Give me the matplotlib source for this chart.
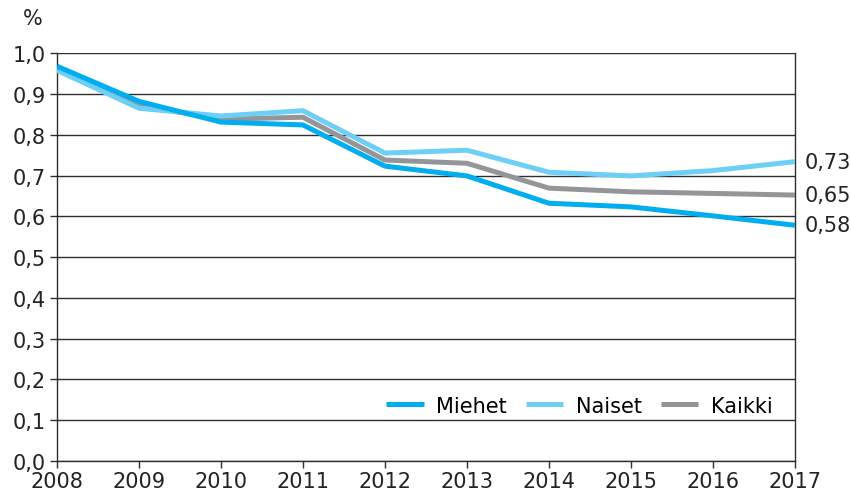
import matplotlib
matplotlib.use('Agg')
import matplotlib.pyplot as plt
from matplotlib.ticker import FuncFormatter

years = [2008, 2009, 2010, 2011, 2012, 2013, 2014, 2015, 2016, 2017]
miehet = [0.968, 0.882, 0.831, 0.824, 0.723, 0.699, 0.632, 0.623, 0.601, 0.578]
naiset = [0.958, 0.865, 0.846, 0.859, 0.755, 0.762, 0.708, 0.699, 0.712, 0.734]
kaikki = [0.963, 0.872, 0.838, 0.843, 0.738, 0.730, 0.669, 0.660, 0.656, 0.652]
end_labels = ['0,58', '0,73', '0,65']

c_m = '#00aeef'
c_n = '#6dcff6'
c_k = '#939598'
fs = 15

fig = plt.figure(figsize=(8.51, 5.02), dpi=100)
ax = fig.add_axes([0.067, 0.08, 0.867, 0.812])

ax.plot(years, miehet, color=c_m, lw=3.6, label='Miehet', solid_capstyle='butt', zorder=4)
ax.plot(years, naiset, color=c_n, lw=3.6, label='Naiset', solid_capstyle='butt', zorder=3)
ax.plot(years, kaikki, color=c_k, lw=3.6, label='Kaikki', solid_capstyle='butt', zorder=2)

ax.set_xlim(2008, 2017)
ax.set_ylim(0, 1.0)
ax.set_xticks(years)
ax.set_yticks([i / 10 for i in range(11)])
ax.yaxis.set_major_formatter(FuncFormatter(lambda v, p: f'{v:.1f}'.replace('.', ',')))
ax.grid(axis='y', color='#2e2e2e', lw=1.0, zorder=0)
ax.set_axisbelow(True)

for s in ['left', 'right', 'bottom']:
    ax.spines[s].set_color('#2e2e2e')
    ax.spines[s].set_linewidth(1.0)
ax.spines['top'].set_visible(False)
ax.tick_params(axis='both', labelsize=fs, colors='#2e2e2e', labelcolor='#222222',
               direction='out', length=5, width=1.0)
ax.tick_params(axis='x', pad=2)
ax.tick_params(axis='y', pad=3)

# loppuarvot oikealle
for vals, lab in zip([miehet, naiset, kaikki], end_labels):
    ax.annotate(lab, xy=(years[-1], vals[-1]), xytext=(7, 0), textcoords='offset points',
                va='center', ha='left', fontsize=fs, color='#222222', annotation_clip=False)

fig.text(0.027, 0.962, '%', fontsize=fs, color='#222222', va='center')

ax.legend(loc='lower right', bbox_to_anchor=(0.995, 0.065), ncol=3, frameon=False,
          fontsize=fs, handlelength=1.8, columnspacing=0.9, handletextpad=0.6)

fig.savefig('out.png', dpi=100)
